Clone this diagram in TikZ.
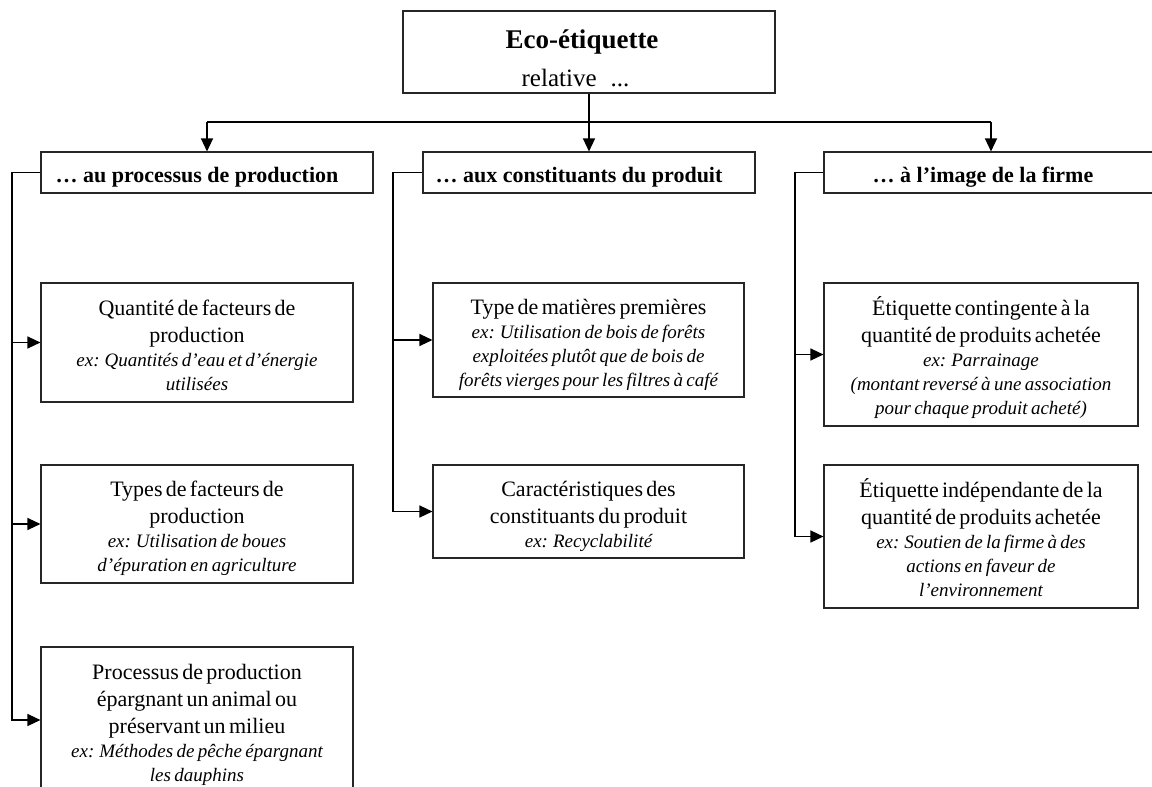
\documentclass[tikz,border=0pt]{standalone}
\usepackage{fontspec}
\setmainfont{Liberation Serif}
\usetikzlibrary{arrows.meta}

% text sizes used inside the boxes
\newcommand\boxreg{\fontsize{22}{27}\selectfont}
\newcommand\boxex{\itshape\fontsize{19}{24}\selectfont}
\newcommand\headfont{\bfseries\fontsize{22}{26}\selectfont}
% fixed room above the first line and below the last one
\newcommand\topgap{\rule{0pt}{26pt}}
\newcommand\botgap{\rule[-6pt]{0pt}{6pt}}
\newcommand\headstrut{\rule[-6pt]{0pt}{31pt}}

\begin{document}
\begin{tikzpicture}[x=1pt,y=-1pt,
  box/.style={draw=black!85, line width=1.1pt, inner sep=0pt, align=center},
  headbox/.style={box, minimum width=332pt, minimum height=41pt, font=\headfont},
  leafbox/.style={box, text width=300pt, inner xsep=6pt},
  link/.style={draw=black, line width=1.3pt},
  arr/.style={link, -{Triangle[length=13pt,width=12pt]}}]

\useasboundingbox (0,0) rectangle (1152,787);
\clip (0,0) rectangle (1152,787);

% root
\node[box, text width=360pt, inner xsep=6pt, minimum height=82pt] (root) at (589,52)
  {{\bfseries\fontsize{27}{38}\selectfont\rule{0pt}{36pt}Eco-étiquette\hspace*{14pt}\par}
   {\fontsize{25}{38}\selectfont relative\hspace{14pt}...\hspace*{27pt}\rule[-6pt]{0pt}{6pt}\par}};

% second level
\node[headbox] (p1) at (207,172.5) {\headstrut… au processus de production\hspace*{20pt}};
\node[headbox] (p2) at (589,172.5) {\headstrut… aux constituants du produit\hspace*{20pt}};
\node[headbox, minimum width=334pt] (p3) at (991,172.5) {\headstrut… à l’image de la firme\hspace*{16pt}};

% third level, first column
\node[leafbox, minimum height=119pt] (a1) at (197,342.5)
  {{\boxreg\topgap Quantité de facteurs de\\ production\par}
   {\boxex ex: Quantités d’eau et d’énergie\\ utilisées\botgap\par}};
\node[leafbox, minimum height=118pt] (a2) at (197,524)
  {{\boxreg\topgap Types de facteurs de\\ production\par}
   {\boxex ex: Utilisation de boues\\ d’épuration en agriculture\botgap\par}};
\node[leafbox, minimum height=146pt] (a3) at (197,720)
  {{\boxreg\topgap Processus de production\\ épargnant un animal ou\\ préservant un milieu\par}
   {\boxex ex: Méthodes de pêche épargnant\\ les dauphins\botgap\par}};

% third level, second column
\node[leafbox, text width=299pt, minimum height=114pt] (b1) at (588.5,340)
  {{\boxreg\topgap Type de matières premières\par}
   {\boxex ex: Utilisation de bois de forêts\\ exploitées plutôt que de bois de\\ forêts vierges pour les filtres à café\botgap\par}};
\node[leafbox, text width=299pt, minimum height=93pt] (b2) at (588.5,511.5)
  {{\boxreg\topgap Caractéristiques des\\ constituants du produit\par}
   {\boxex ex: Recyclabilité\botgap\par}};

% third level, third column
\node[leafbox, text width=302pt, minimum height=143pt] (c1) at (981,354.5)
  {{\boxreg\topgap Étiquette contingente à la\\ quantité de produits achetée\par}
   {\boxex ex: Parrainage\\ (montant reversé à une association\\ pour chaque produit acheté)\botgap\par}};
\node[leafbox, text width=302pt, minimum height=143pt] (c2) at (981,536.5)
  {{\boxreg\topgap Étiquette indépendante de la\\ quantité de produits achetée\par}
   {\boxex ex: Soutien de la firme à des\\ actions en faveur de\\ l’environnement\botgap\par}};

% spine positions
\coordinate (bar) at (0,122);
\coordinate (s1) at (12,0);
\coordinate (s2) at (393,0);
\coordinate (s3) at (795,0);

% root to second level
\draw[arr] (root.south) -- (p2.north);
\draw[link] (p1.north |- bar) -- (p3.north |- bar);
\draw[arr] (p1.north |- bar) -- (p1.north);
\draw[arr] (p3.north |- bar) -- (p3.north);

% second level to third level
\foreach \child in {a1,a2,a3}
  \draw[arr] (p1.west) -- (p1.west -| s1) |- (\child.west);
\foreach \child in {b1,b2}
  \draw[arr] (p2.west) -- (p2.west -| s2) |- (\child.west);
\foreach \child in {c1,c2}
  \draw[arr] (p3.west) -- (p3.west -| s3) |- (\child.west);

\end{tikzpicture}
\end{document}
